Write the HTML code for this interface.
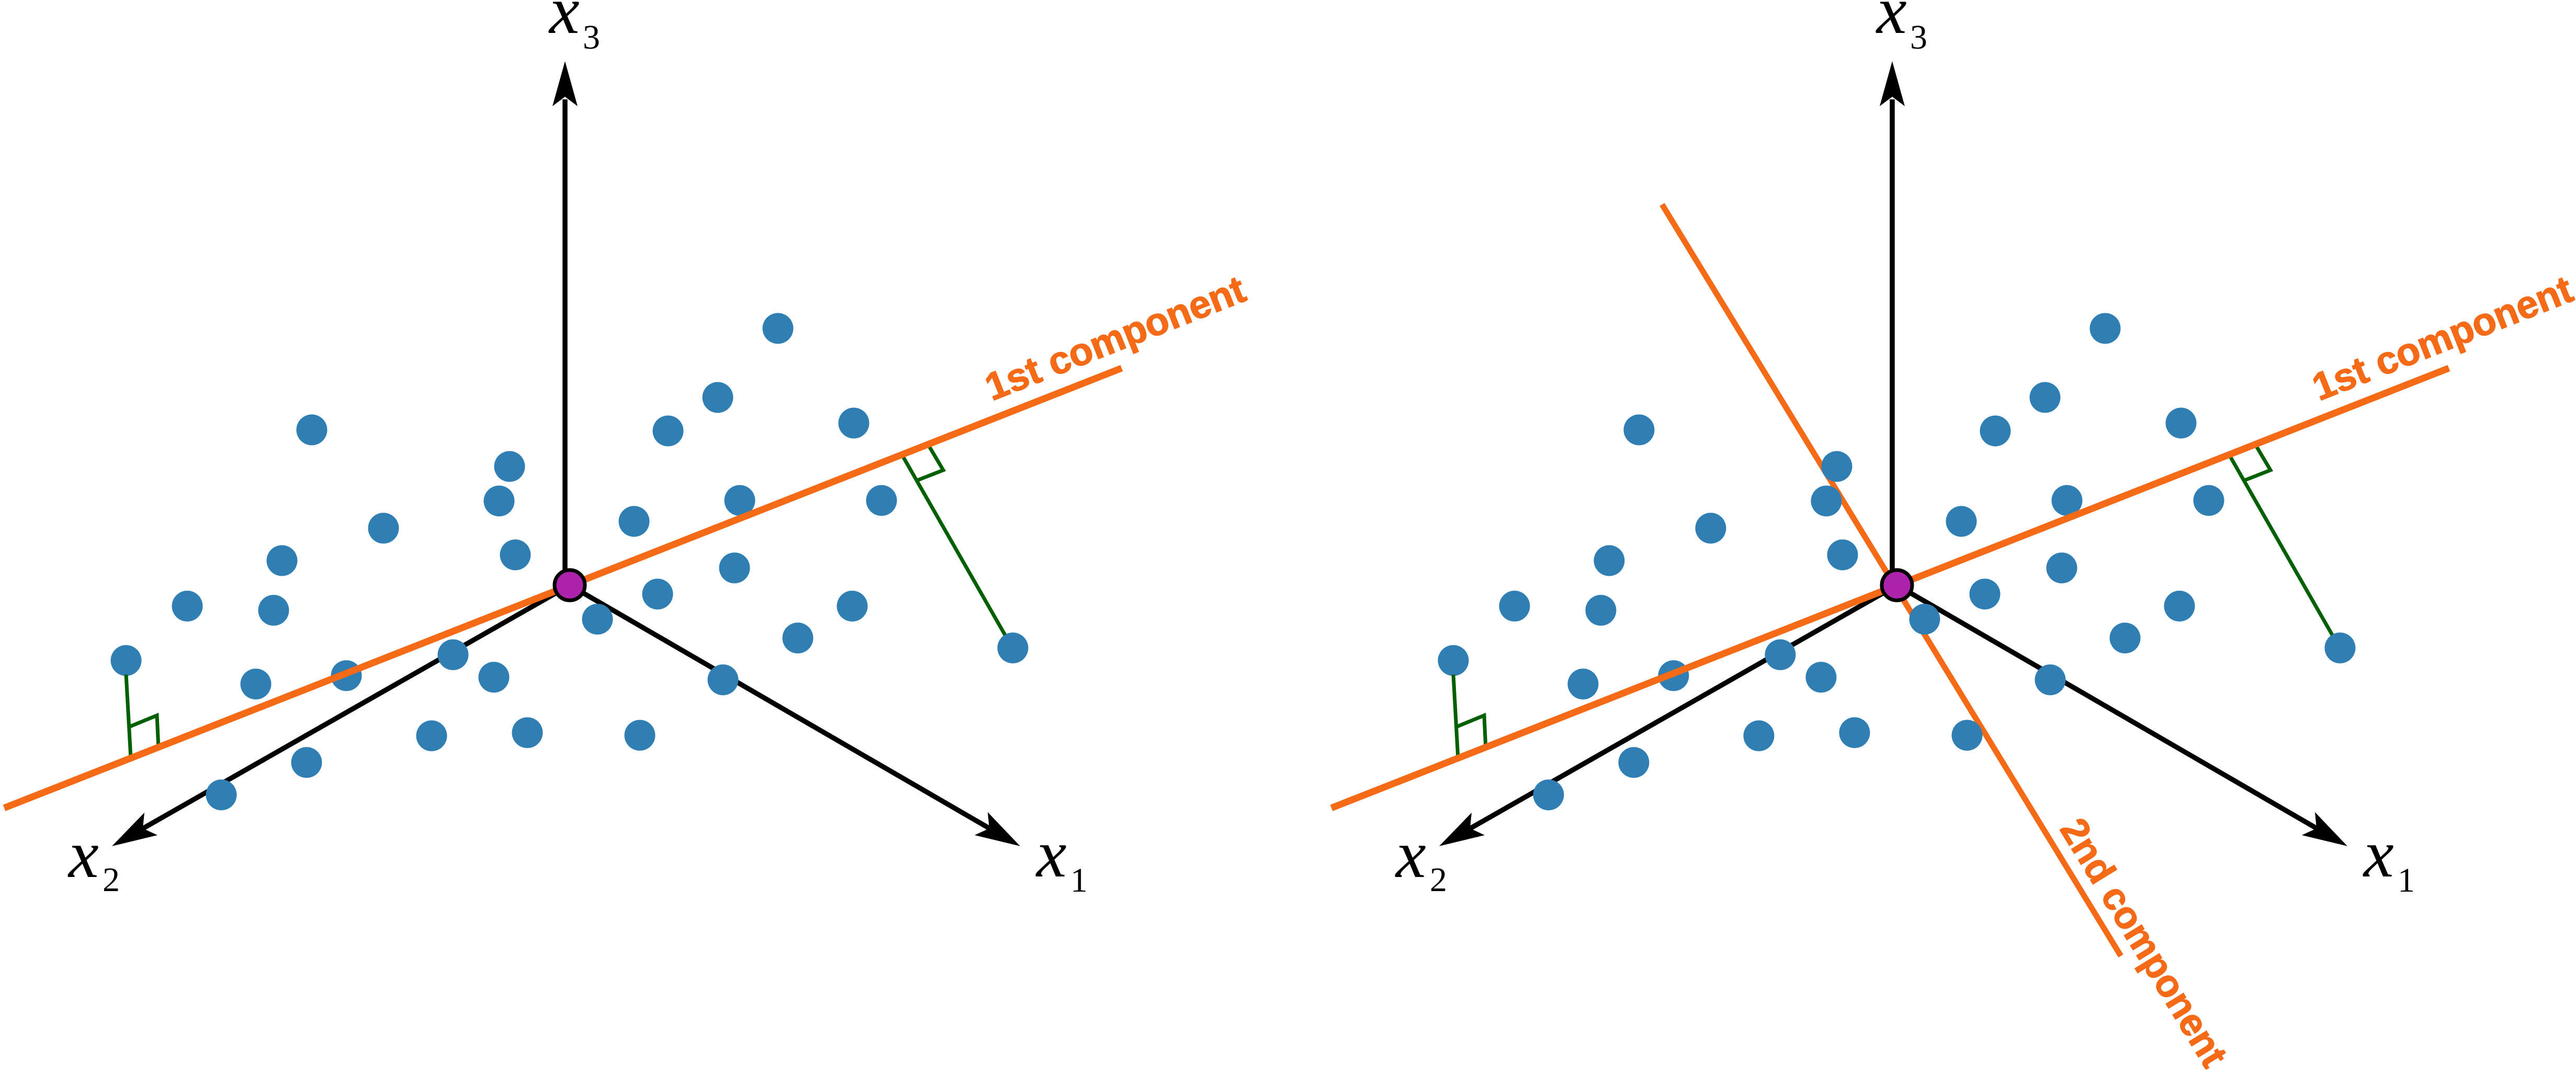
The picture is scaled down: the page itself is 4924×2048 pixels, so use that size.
<!DOCTYPE html>
<html><head><meta charset="utf-8"><style>
html,body{margin:0;padding:0;background:#fff;}
svg{display:block;}
.ax{stroke:#000;stroke-width:9.5;fill:none;}
.ah{fill:#000;stroke:none;}
.dot{fill:#2f7fb5;}
.pc{stroke:#f46a16;stroke-width:13;fill:none;}
.pc2{stroke:#f46a16;stroke-width:11;fill:none;}
.gr{stroke:#006000;stroke-width:7;fill:none;}
.lx{font-family:"Liberation Serif",serif;font-style:italic;font-size:130px;fill:#000;}
.ls{font-family:"Liberation Serif",serif;font-size:66px;fill:#000;}
.lab{font-family:"Liberation Sans",Arial,sans-serif;font-weight:bold;font-size:74px;fill:#f46a16;stroke:#f46a16;stroke-width:1.5;}
</style></head><body>
<svg width="4924" height="2048" viewBox="0 0 4924 2048" xmlns="http://www.w3.org/2000/svg">
<rect width="4924" height="2048" fill="#fff"/>

<!-- LEFT PANEL -->
<g>
  <line class="ax" x1="1080" y1="190" x2="1080" y2="1115"/>
  <polygon class="ah" points="1080,117 1104,203 1080,185 1056,203"/>
  <line class="ax" x1="1089" y1="1119" x2="1893" y2="1585"/>
  <polygon class="ah" points="1950,1618 1863,1597 1891,1584 1888,1553"/>
  <line class="ax" x1="1089" y1="1119" x2="270" y2="1586"/>
  <polygon class="ah" points="214,1618 276,1554 273,1584 301,1597"/>

  <circle class="dot" cx="596" cy="822" r="29.5"/>
  <circle class="dot" cx="974" cy="892" r="29.5"/>
  <circle class="dot" cx="954" cy="958" r="29.5"/>
  <circle class="dot" cx="733" cy="1010" r="29.5"/>
  <circle class="dot" cx="539" cy="1072" r="29.5"/>
  <circle class="dot" cx="985" cy="1061" r="29.5"/>
  <circle class="dot" cx="358" cy="1159" r="29.5"/>
  <circle class="dot" cx="523" cy="1167" r="29.5"/>
  <circle class="dot" cx="241" cy="1263" r="29.5"/>
  <circle class="dot" cx="489" cy="1308" r="29.5"/>
  <circle class="dot" cx="662" cy="1292" r="29.5"/>
  <circle class="dot" cx="866" cy="1252" r="29.5"/>
  <circle class="dot" cx="944" cy="1295" r="29.5"/>
  <circle class="dot" cx="825" cy="1407" r="29.5"/>
  <circle class="dot" cx="1008" cy="1401" r="29.5"/>
  <circle class="dot" cx="586" cy="1458" r="29.5"/>
  <circle class="dot" cx="423" cy="1520" r="29.5"/>
  <circle class="dot" cx="1487" cy="628" r="29.5"/>
  <circle class="dot" cx="1372" cy="760" r="29.5"/>
  <circle class="dot" cx="1277" cy="824" r="29.5"/>
  <circle class="dot" cx="1632" cy="809" r="29.5"/>
  <circle class="dot" cx="1414" cy="957" r="29.5"/>
  <circle class="dot" cx="1685" cy="957" r="29.5"/>
  <circle class="dot" cx="1212" cy="997" r="29.5"/>
  <circle class="dot" cx="1404" cy="1086" r="29.5"/>
  <circle class="dot" cx="1257" cy="1136" r="29.5"/>
  <circle class="dot" cx="1142" cy="1184" r="29.5"/>
  <circle class="dot" cx="1629" cy="1159" r="29.5"/>
  <circle class="dot" cx="1525" cy="1220" r="29.5"/>
  <circle class="dot" cx="1382" cy="1300" r="29.5"/>
  <circle class="dot" cx="1936" cy="1239" r="29.5"/>
  <circle class="dot" cx="1223" cy="1406" r="29.5"/>

  <line class="gr" x1="241" y1="1290" x2="250" y2="1450"/>
  <polyline class="gr" points="249,1389 300,1368 303,1432"/>
  <line class="gr" x1="1921" y1="1214" x2="1722" y2="866"/>
  <polyline class="gr" points="1752,919 1803,899 1774,850"/>

  <line class="pc" x1="8" y1="1545" x2="2144" y2="704"/>
  <circle cx="1089" cy="1119" r="29" fill="#ae22ac" stroke="#000" stroke-width="7"/>

  <text class="lab" transform="translate(1896,767) rotate(-21.6)" textLength="527" lengthAdjust="spacingAndGlyphs">1st component</text>

  <text class="lx" x="1050" y="63">x</text><text class="ls" x="1114" y="93">3</text>
  <text class="lx" x="131" y="1677">x</text><text class="ls" x="196" y="1704">2</text>
  <text class="lx" x="1981" y="1676">x</text><text class="ls" x="2046" y="1705">1</text>
</g>

<!-- RIGHT PANEL -->
<g transform="translate(2537,0)">
  <line class="ax" x1="1080" y1="190" x2="1080" y2="1115"/>
  <polygon class="ah" points="1080,117 1104,203 1080,185 1056,203"/>
  <line class="ax" x1="1089" y1="1119" x2="1893" y2="1585"/>
  <polygon class="ah" points="1950,1618 1863,1597 1891,1584 1888,1553"/>
  <line class="ax" x1="1089" y1="1119" x2="270" y2="1586"/>
  <polygon class="ah" points="214,1618 276,1554 273,1584 301,1597"/>

  <line class="pc2" x1="640" y1="391" x2="1517" y2="1828"/>

  <circle class="dot" cx="596" cy="822" r="29.5"/>
  <circle class="dot" cx="974" cy="892" r="29.5"/>
  <circle class="dot" cx="954" cy="958" r="29.5"/>
  <circle class="dot" cx="733" cy="1010" r="29.5"/>
  <circle class="dot" cx="539" cy="1072" r="29.5"/>
  <circle class="dot" cx="985" cy="1061" r="29.5"/>
  <circle class="dot" cx="358" cy="1159" r="29.5"/>
  <circle class="dot" cx="523" cy="1167" r="29.5"/>
  <circle class="dot" cx="241" cy="1263" r="29.5"/>
  <circle class="dot" cx="489" cy="1308" r="29.5"/>
  <circle class="dot" cx="662" cy="1292" r="29.5"/>
  <circle class="dot" cx="866" cy="1252" r="29.5"/>
  <circle class="dot" cx="944" cy="1295" r="29.5"/>
  <circle class="dot" cx="825" cy="1407" r="29.5"/>
  <circle class="dot" cx="1008" cy="1401" r="29.5"/>
  <circle class="dot" cx="586" cy="1458" r="29.5"/>
  <circle class="dot" cx="423" cy="1520" r="29.5"/>
  <circle class="dot" cx="1487" cy="628" r="29.5"/>
  <circle class="dot" cx="1372" cy="760" r="29.5"/>
  <circle class="dot" cx="1277" cy="824" r="29.5"/>
  <circle class="dot" cx="1632" cy="809" r="29.5"/>
  <circle class="dot" cx="1414" cy="957" r="29.5"/>
  <circle class="dot" cx="1685" cy="957" r="29.5"/>
  <circle class="dot" cx="1212" cy="997" r="29.5"/>
  <circle class="dot" cx="1404" cy="1086" r="29.5"/>
  <circle class="dot" cx="1257" cy="1136" r="29.5"/>
  <circle class="dot" cx="1142" cy="1184" r="29.5"/>
  <circle class="dot" cx="1629" cy="1159" r="29.5"/>
  <circle class="dot" cx="1525" cy="1220" r="29.5"/>
  <circle class="dot" cx="1382" cy="1300" r="29.5"/>
  <circle class="dot" cx="1936" cy="1239" r="29.5"/>
  <circle class="dot" cx="1223" cy="1406" r="29.5"/>

  <line class="gr" x1="241" y1="1290" x2="250" y2="1450"/>
  <polyline class="gr" points="249,1389 300,1368 303,1432"/>
  <line class="gr" x1="1921" y1="1214" x2="1722" y2="866"/>
  <polyline class="gr" points="1752,919 1803,899 1774,850"/>

  <line class="pc" x1="8" y1="1545" x2="2144" y2="704"/>
  <circle cx="1089" cy="1119" r="29" fill="#ae22ac" stroke="#000" stroke-width="7"/>

  <text class="lab" transform="translate(1896,767) rotate(-21.6)" textLength="527" lengthAdjust="spacingAndGlyphs">1st component</text>
  <text class="lab" transform="translate(1399,1585) rotate(58.6)" textLength="540" lengthAdjust="spacingAndGlyphs">2nd component</text>

  <text class="lx" x="1050" y="63">x</text><text class="ls" x="1114" y="93">3</text>
  <text class="lx" x="131" y="1677">x</text><text class="ls" x="196" y="1704">2</text>
  <text class="lx" x="1981" y="1676">x</text><text class="ls" x="2046" y="1705">1</text>
</g>
</svg>
</body></html>
